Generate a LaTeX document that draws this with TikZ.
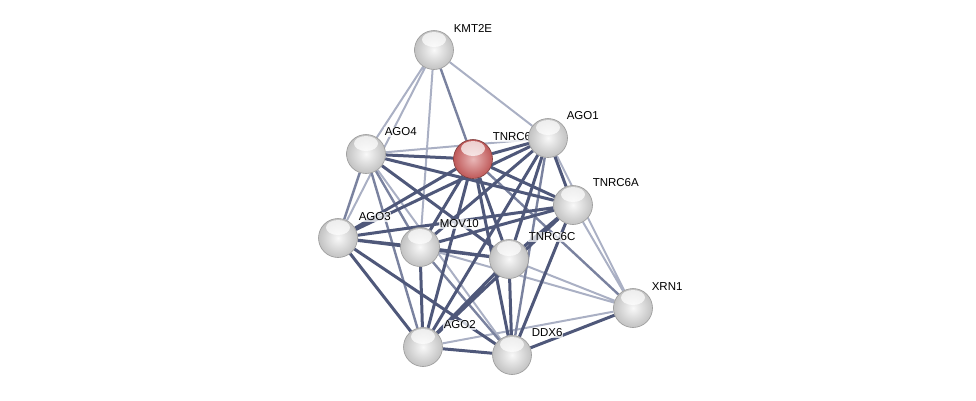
\documentclass[tikz,border=0pt]{standalone}
\usepackage{fontspec}
\setmainfont{Liberation Sans}
\usetikzlibrary{positioning}

\definecolor{edgedark}{HTML}{4F587A}
\definecolor{edgemid}{HTML}{7A829F}
\definecolor{edgelight}{HTML}{AAB0C4}
\definecolor{protred}{HTML}{CF6060}

\pgfdeclarelayer{edgelayer}
\pgfdeclarelayer{labellayer}
\pgfsetlayers{edgelayer,labellayer,main}

\tikzset{
    prot/.style={circle, minimum size=39pt, inner sep=0, draw=black!40, line width=0.6pt,
        shading=radial, inner color=gray!5, outer color=gray!48,
        path picture={\fill[white, opacity=0.7] ([yshift=-9pt]path picture bounding box.north) ellipse (12pt and 7.5pt);}},
    seed/.style={prot, draw=black!40!protred, inner color=protred!45!white, outer color=protred!92!black},
    lbl/.style={anchor=west, inner sep=0.6pt, fill=white, fill opacity=0.75, text opacity=1,
        font=\fontsize{11.5}{13}\selectfont},
    strong/.style={draw=edgedark, line width=3pt},
    medium/.style={draw=edgemid, line width=2.4pt},
    weak/.style={draw=edgelight, line width=2pt},
}

\begin{document}
\begin{tikzpicture}[x=1pt, y=-1pt]
    \useasboundingbox (0,0) rectangle (976,400);

    % proteins
    \node[prot] (kmt) at (434,50) {};
    \node[prot] (ago4) at (366,154) {};
    \node[seed] (tnrcb) at (473,159) {};
    \node[prot] (ago1) at (548,138) {};
    \node[prot] (tnrca) at (573,205) {};
    \node[prot] (ago3) at (338,238) {};
    \node[prot] (mov) at (420,247) {};
    \node[prot] (tnrcc) at (509,259) {};
    \node[prot] (xrn) at (633,308) {};
    \node[prot] (ago2) at (423,347) {};
    \node[prot] (ddx) at (512,355) {};

    \begin{pgfonlayer}{labellayer}
    \node[lbl] at ([shift={(19,-22)}]kmt.center) {KMT2E};
    \node[lbl] at ([shift={(18,-22)}]ago4.center) {AGO4};
    \node[lbl] at ([shift={(19,-22)}]tnrcb.center) {TNRC6B};
    \node[lbl] at ([shift={(18,-22)}]ago1.center) {AGO1};
    \node[lbl] at ([shift={(19,-22)}]tnrca.center) {TNRC6A};
    \node[lbl] at ([shift={(20,-21)}]ago3.center) {AGO3};
    \node[lbl] at ([shift={(19,-23)}]mov.center) {MOV10};
    \node[lbl] at ([shift={(19,-22)}]tnrcc.center) {TNRC6C};
    \node[lbl] at ([shift={(18,-21)}]xrn.center) {XRN1};
    \node[lbl] at ([shift={(20,-22)}]ago2.center) {AGO2};
    \node[lbl] at ([shift={(19,-22)}]ddx.center) {DDX6};
    \end{pgfonlayer}

    % interactions
    \begin{pgfonlayer}{edgelayer}
    \draw[weak] (kmt) -- (ago4) (kmt) -- (ago3) (kmt) -- (mov) (kmt) -- (ago1)
        (ago1) -- (xrn) (tnrca) -- (xrn) (tnrcc) -- (xrn) (mov) -- (xrn)
        (ago2) -- (xrn) (ago4) -- (ddx) (ago4) -- (ago1);
    \draw[medium] (kmt) -- (tnrcb) (ago4) -- (ago3) (ago4) -- (mov) (ago1) -- (ddx)
        (tnrcb) -- (xrn) (mov) -- (ddx) (ago4) -- (ago2);
    \draw[strong] (tnrcb) -- (ago4) (tnrcb) -- (ago3) (tnrcb) -- (mov) (tnrcb) -- (ago1)
        (tnrcb) -- (tnrca) (tnrcb) -- (tnrcc) (tnrcb) -- (ago2) (tnrcb) -- (ddx)
        (ago1) -- (ago3) (ago1) -- (mov) (ago1) -- (tnrca) (ago1) -- (tnrcc) (ago1) -- (ago2)
        (ago4) -- (tnrca) (ago4) -- (tnrcc)
        (tnrca) -- (ago3) (tnrca) -- (mov) (tnrca) -- (tnrcc) (tnrca) -- (ago2) (tnrca) -- (ddx)
        (ago3) -- (mov) (ago3) -- (tnrcc) (ago3) -- (ago2) (ago3) -- (ddx)
        (mov) -- (tnrcc) (mov) -- (ago2)
        (tnrcc) -- (ago2) (tnrcc) -- (ddx) (ago2) -- (ddx) (ddx) -- (xrn);
    \end{pgfonlayer}
\end{tikzpicture}
\end{document}
